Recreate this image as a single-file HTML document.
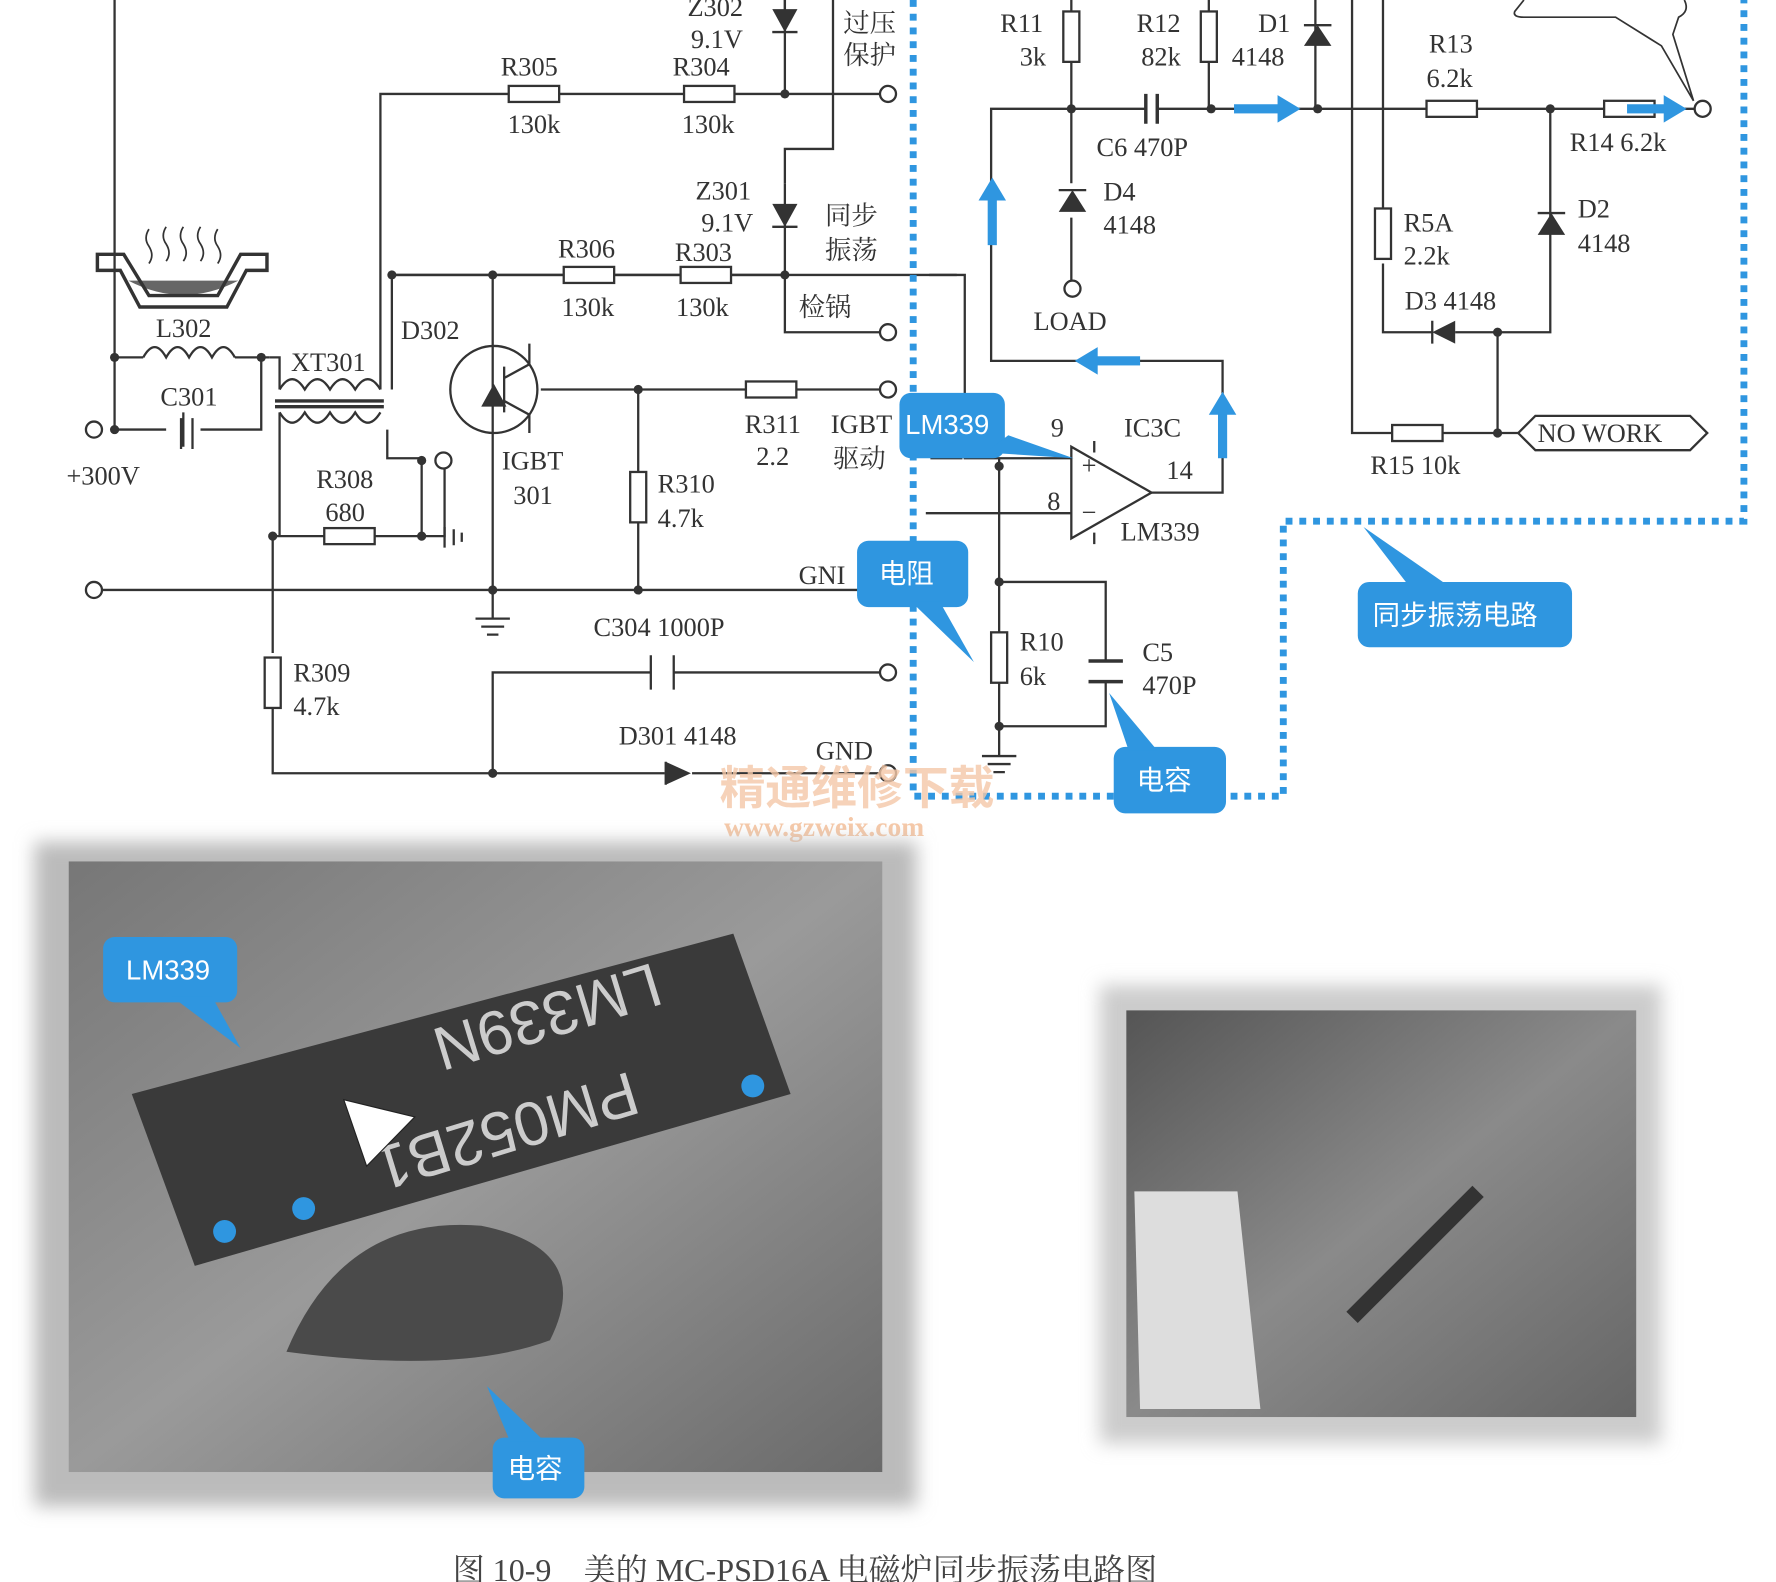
<!DOCTYPE html>
<html><head><meta charset="utf-8"><style>
html,body{margin:0;padding:0;background:#fff}
svg{display:block}
text{font-family:"Liberation Serif","Noto Serif CJK SC",serif;fill:#333;font-size:23px}
.c{font-family:"Liberation Sans","Noto Sans CJK SC",sans-serif;fill:#fff;font-size:24px}
</style></head><body>
<svg width="1776" height="1582" viewBox="0 0 1550 1381" preserveAspectRatio="none" xmlns="http://www.w3.org/2000/svg">
<defs>
<linearGradient id="p1" x1="0" y1="0" x2="1" y2="1"><stop offset="0" stop-color="#777"/><stop offset="0.5" stop-color="#9a9a9a"/><stop offset="1" stop-color="#6a6a6a"/></linearGradient>
<linearGradient id="p2" x1="0" y1="0" x2="1" y2="1"><stop offset="0" stop-color="#555"/><stop offset="0.5" stop-color="#8a8a8a"/><stop offset="1" stop-color="#666"/></linearGradient>
<filter id="sh"><feGaussianBlur stdDeviation="8"/></filter>
</defs>
<g stroke="#333" stroke-width="2" fill="none">
<path d="M100 0V375M100 312H125M205 312H235M100 375H145M175 375H228V312"/>
<path d="M125 312q10-18 20 0q10-18 20 0q10-18 20 0q10-18 20 0"/>
<path d="M244 340q11-18 22 0q11-18 22 0q11-18 22 0q11-18 22 0M244 360q11 18 22 0q11 18 22 0q11 18 22 0q11 18 22 0"/>
<path d="M240 350H335M240 355H335" stroke-width="3"/>
<path d="M235 312H244V340M332 340V82H444M488 82H597M641 82H775M685 0V82M685 160V240H342M342 240V340"/>
<path d="M244 360V468M338 375V400H368V468M238 468H283M327 468H388V400M238 468V570M238 618V675H580M604 675H775"/>
<path d="M430 240V515M342 240H492M536 240H594M638 240H835M685 240V290H775M685 25V0M727 0V130H685V160"/>
<path d="M80 515H775M430 515V540M415 540H445M420 547H440M425 554H435M557 340V412M557 456V515M472 340H651M695 340H775"/>
<path d="M430 675V587H568M588 587H775M568 572V602M588 572V602"/>
<path d="M388 460V478M396 462V476M403 465V473"/>
<path d="M160 375V360M160 375V390M168 365V392M158 365V392"/>
<path d="M674 28H696M674 198H696M581 665V685M924 166H948M1138 22H1162M1342 186H1366M1250 280V300"/>
<circle cx="431" cy="340" r="38"/>
<path d="M440 320V360M440 330L462 318V300M440 350L462 362V378"/>
<path d="M811 240H842V400H935M808 448H935M872 400V634M872 508H965V577M965 595V634H872M872 634V660M857 660H887M862 667H882M867 674H877"/>
<path d="M840 400H812"/>
<path d="M935 390V470L1005 430Z"/>
<path d="M955 385V395M955 465V475M1005 430H1067V315H865V95H1000M1010 95H1148V0M1055 95V55M1055 10V0M935 55V95M935 10V0M935 95V160M935 190V245"/>
<path d="M1000 82V108M1010 82V108M950 577H980M950 595H980" stroke-width="3"/>
<path d="M1148 95H1245M1289 95H1400M1444 95H1480M1353 95V290M1353 190V290H1307M1307 290V378M1180 0V378H1215M1259 378H1325M1207 240V290H1250M1270 290H1307M1207 240V230M1207 182V0"/>
<path d="M1325 378L1340 363H1475L1490 378L1475 393H1340Z"/>
<path d="M1330 0L1322 10Q1320 15 1330 15H1410L1450 40L1478 88L1460 30L1465 15Q1475 10 1470 0" stroke-width="1.5"/>
</g>
<g fill="#fff" stroke="#333" stroke-width="2">
<rect x="444" y="75" width="44" height="14"/><rect x="597" y="75" width="44" height="14"/>
<rect x="492" y="233" width="44" height="14"/><rect x="594" y="233" width="44" height="14"/>
<rect x="651" y="333" width="44" height="14"/><rect x="283" y="461" width="44" height="14"/>
<rect x="550" y="412" width="14" height="44"/><rect x="231" y="574" width="14" height="44"/>
<rect x="865" y="552" width="14" height="44"/><rect x="928" y="10" width="14" height="44"/>
<rect x="1048" y="10" width="14" height="44"/><rect x="1200" y="182" width="14" height="44"/>
<rect x="1245" y="88" width="44" height="14"/><rect x="1400" y="88" width="44" height="14"/>
<rect x="1215" y="371" width="44" height="14"/>
<circle cx="82" cy="375" r="7"/><circle cx="82" cy="515" r="7"/><circle cx="387" cy="402" r="7"/>
<circle cx="775" cy="82" r="7"/><circle cx="775" cy="290" r="7"/><circle cx="775" cy="340" r="7"/>
<circle cx="775" cy="587" r="7"/><circle cx="775" cy="675" r="7"/><circle cx="936" cy="252" r="7"/><circle cx="1486" cy="95" r="7"/>
</g>
<g fill="#333">
<circle cx="100" cy="312" r="4"/><circle cx="100" cy="375" r="4"/><circle cx="228" cy="312" r="4"/><circle cx="342" cy="240" r="4"/><circle cx="430" cy="240" r="4"/><circle cx="685" cy="82" r="4"/><circle cx="685" cy="240" r="4"/><circle cx="557" cy="340" r="4"/><circle cx="430" cy="515" r="4"/><circle cx="557" cy="515" r="4"/><circle cx="238" cy="468" r="4"/><circle cx="368" cy="468" r="4"/><circle cx="368" cy="402" r="4"/><circle cx="430" cy="675" r="4"/>
<circle cx="935" cy="95" r="4"/><circle cx="1057" cy="95" r="4"/><circle cx="1150" cy="95" r="4"/><circle cx="1353" cy="95" r="4"/><circle cx="1307" cy="290" r="4"/><circle cx="1307" cy="378" r="4"/><circle cx="872" cy="407" r="4"/><circle cx="872" cy="508" r="4"/><circle cx="872" cy="634" r="4"/>
<path d="M674 8H696L685 28Z"/><path d="M674 178H696L685 198Z"/><path d="M420 355H442L431 335Z"/>
<path d="M581 665V685L603 675Z"/><path d="M924 185H948L936 166Z"/><path d="M1138 40H1162L1150 22Z"/><path d="M1342 205H1366L1354 186Z"/><path d="M1270 280V300L1250 290Z"/>
<path d="M112 245Q160 270 208 245Z" fill="#666"/>
</g>
<path d="M85 222H108L130 258H190L210 222H233V236H215L198 268H122L105 236H85Z" fill="none" stroke="#333" stroke-width="3"/>
<g stroke="#333" stroke-width="1.5" fill="none"><path d="M130 200q-5 8 0 15q5 8 0 15M145 198q-5 8 0 15q5 8 0 15M160 198q-5 8 0 15q5 8 0 15M175 198q-5 8 0 15q5 8 0 15M190 200q-5 8 0 15q5 8 0 15"/></g>
<g fill="#333"><text x="944" y="414" font-size="16">+</text><text x="944" y="455" font-size="16">−</text></g>
<g fill="#2f96e0">
<rect x="1077" y="91" width="40" height="8"/><path d="M1115 83L1135 95L1115 107Z"/>
<rect x="1420" y="91" width="35" height="8"/><path d="M1452 83L1472 95L1452 107Z"/>
<rect x="862" y="172" width="8" height="42"/><path d="M854 175L866 155L878 175Z"/>
<rect x="955" y="311" width="40" height="8"/><path d="M958 303L938 315L958 327Z"/>
<rect x="1063" y="358" width="8" height="42"/><path d="M1055 362L1067 342L1079 362Z"/>
</g>
<path d="M797 0V695H1120V455H1522V0" fill="none" stroke="#2f96e0" stroke-width="6" stroke-dasharray="6 6"/>
<text x="600" y="14">Z302</text><text x="603" y="42">9.1V</text><text x="736" y="28">过压</text><text x="736" y="56">保护</text>
<text x="437" y="66">R305</text><text x="587" y="66">R304</text><text x="443" y="116">130k</text><text x="595" y="116">130k</text>
<text x="607" y="174">Z301</text><text x="612" y="202">9.1V</text><text x="720" y="196">同步</text><text x="720" y="226">振荡</text>
<text x="487" y="225">R306</text><text x="589" y="228">R303</text><text x="490" y="276">130k</text><text x="590" y="276">130k</text><text x="697" y="276">检锅</text>
<text x="136" y="294">L302</text><text x="350" y="296">D302</text><text x="254" y="324">XT301</text><text x="140" y="354">C301</text>
<text x="650" y="378">R311</text><text x="660" y="406">2.2</text><text x="725" y="378">IGBT</text><text x="727" y="408">驱动</text>
<text x="58" y="423">+300V</text><text x="438" y="410">IGBT</text><text x="448" y="440">301</text><text x="276" y="426">R308</text><text x="284" y="455">680</text>
<text x="574" y="430">R310</text><text x="574" y="460">4.7k</text><text x="697" y="510">GNI</text>
<text x="518" y="555">C304 1000P</text><text x="256" y="595">R309</text><text x="256" y="624">4.7k</text>
<text x="540" y="650">D301 4148</text><text x="712" y="663">GND</text>
<text x="873" y="28">R11</text><text x="890" y="57">3k</text><text x="992" y="28">R12</text><text x="996" y="57">82k</text><text x="1098" y="28">D1</text><text x="1075" y="57">4148</text>
<text x="1247" y="46">R13</text><text x="1245" y="76">6.2k</text><text x="957" y="136">C6 470P</text><text x="1370" y="132">R14 6.2k</text>
<text x="963" y="175">D4</text><text x="963" y="204">4148</text><text x="1225" y="202">R5A</text><text x="1225" y="231">2.2k</text><text x="1377" y="190">D2</text><text x="1377" y="220">4148</text>
<text x="1226" y="270">D3 4148</text><text x="902" y="288">LOAD</text><text x="917" y="381">9</text><text x="981" y="381">IC3C</text><text x="1018" y="418">14</text>
<text x="914" y="445">8</text><text x="978" y="472">LM339</text><text x="1342" y="386">NO WORK</text><text x="1196" y="414">R15 10k</text>
<text x="890" y="568">R10</text><text x="890" y="598">6k</text><text x="997" y="577">C5</text><text x="997" y="606">470P</text>
<text x="628" y="702" style="fill:#f5c8a8;font-size:40px;font-family:'Noto Sans CJK SC',sans-serif;font-weight:bold;opacity:.8">精通维修下载</text>
<text x="632" y="730" style="fill:#f5c8a8;font-size:24px;font-weight:bold">www.gzweix.com</text>
<g fill="#2f96e0">
<rect x="785" y="343" width="92" height="57" rx="10"/><path d="M860 395L937 400L880 380Z"/>
<rect x="748" y="472" width="97" height="58" rx="10"/><path d="M795 525L850 578L820 525Z"/>
<rect x="972" y="652" width="98" height="58" rx="10"/><path d="M985 655L968 605L1010 655Z"/>
<rect x="1185" y="508" width="187" height="57" rx="10"/><path d="M1230 512L1190 460L1265 512Z"/>
</g>
<text class="c" x="790" y="379">LM339</text><text class="c" x="767" y="509">电阻</text><text class="c" x="992" y="689">电容</text><text class="c" x="1198" y="545">同步振荡电路</text>
<rect x="30" y="735" width="770" height="580" fill="#bbb" filter="url(#sh)"/>
<rect x="60" y="752" width="710" height="533" fill="url(#p1)"/>
<path d="M115 955L640 815L690 955L170 1105Z" fill="#3a3a3a"/>
<path d="M250 1180Q300 1060 420 1070Q520 1090 480 1170Q400 1200 250 1180Z" fill="#4a4a4a"/>
<text x="0" y="0" transform="translate(570 840) rotate(163)" style="fill:#ccc;font-size:54px;font-family:'Liberation Sans',sans-serif">LM339N</text>
<text x="0" y="0" transform="translate(550 935) rotate(163)" style="fill:#ccc;font-size:54px;font-family:'Liberation Sans',sans-serif">PM052B1</text>
<path d="M300 960L362 975L320 1018Z" fill="#fff" stroke="#222"/>
<g fill="#2f96e0"><circle cx="196" cy="1075" r="10"/><circle cx="265" cy="1055" r="10"/><circle cx="657" cy="948" r="10"/>
<rect x="90" y="818" width="117" height="57" rx="10"/><path d="M150 870L210 915L185 870Z"/>
<rect x="430" y="1255" width="80" height="53" rx="10"/><path d="M445 1258L425 1210L475 1258Z"/>
<rect x="1135" y="995" width="87" height="50" rx="10"/><path d="M1185 1040L1230 1090L1205 1040Z"/></g>
<text class="c" x="110" y="855">LM339</text><text class="c" x="443" y="1290">电容</text><text class="c" x="1153" y="1030">电阻</text>
<rect x="960" y="860" width="490" height="400" fill="#ccc" filter="url(#sh)"/>
<rect x="983" y="882" width="445" height="355" fill="url(#p2)"/>
<path d="M990 1040H1080L1100 1230H995Z" fill="#ddd"/>
<path d="M1180 1150L1290 1040" stroke="#333" stroke-width="14"/>
<text x="395" y="1380" style="font-size:28px;fill:#444">图 10-9　美的 MC-PSD16A 电磁炉同步振荡电路图</text>
</svg>
</body></html>
